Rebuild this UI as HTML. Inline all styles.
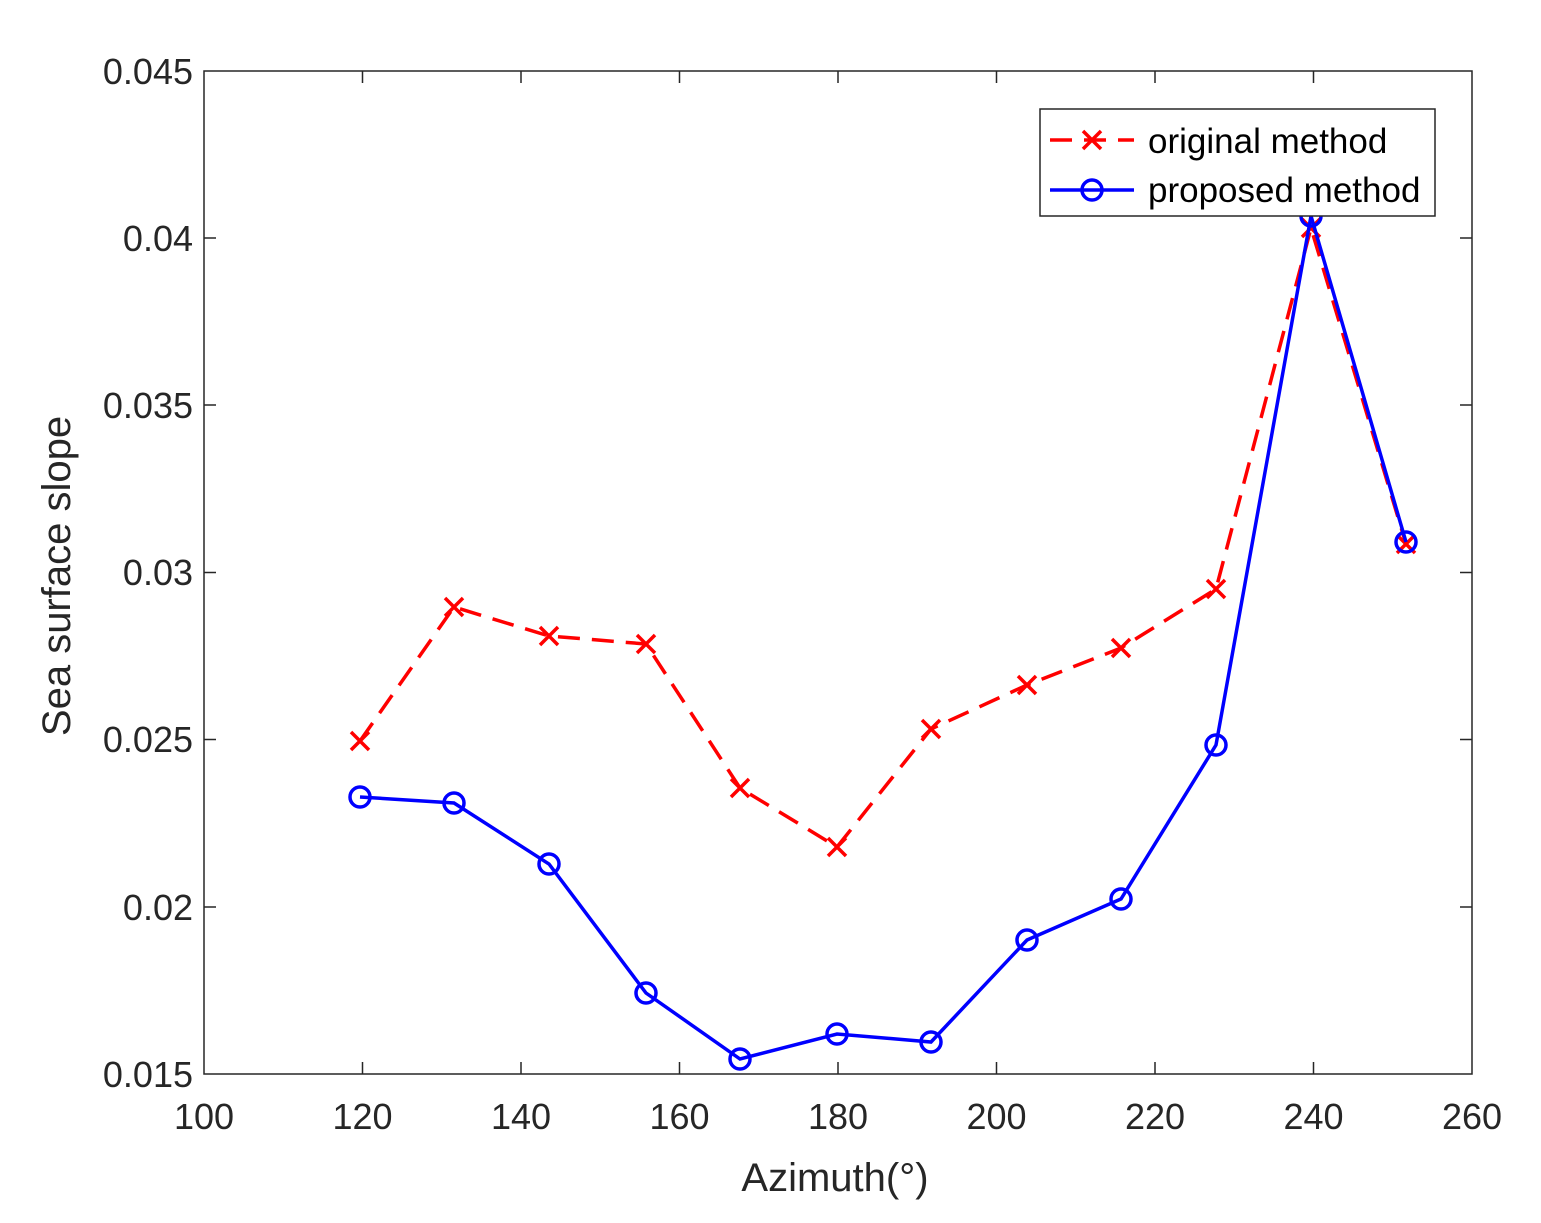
<!DOCTYPE html>
<html><head><style>body{margin:0;background:#fff}</style></head><body>
<svg width="1541" height="1218" xmlns="http://www.w3.org/2000/svg" font-family="Liberation Sans, sans-serif">
<rect width="1541" height="1218" fill="#fff"/>
<rect x="204" y="71" width="1268" height="1003" fill="#fff" stroke="#262626" stroke-width="1.5"/>
<g stroke="#262626" stroke-width="1.5">
<path d="M362.5,1074v-12M521,1074v-12M679.5,1074v-12M838,1074v-12M996.5,1074v-12M1155,1074v-12M1313.5,1074v-12M362.5,71v12M521,71v12M679.5,71v12M838,71v12M996.5,71v12M1155,71v12M1313.5,71v12"/>
<path d="M204,238h12M204,405h12M204,572.5h12M204,739.5h12M204,907h12M1472,238h-12M1472,405h-12M1472,572.5h-12M1472,739.5h-12M1472,907h-12"/>
</g>
<g font-size="36" fill="#262626" text-anchor="middle">
<text x="204" y="1129">100</text><text x="362.5" y="1129">120</text><text x="521" y="1129">140</text><text x="679.5" y="1129">160</text><text x="838" y="1129">180</text><text x="996.5" y="1129">200</text><text x="1155" y="1129">220</text><text x="1313.5" y="1129">240</text><text x="1472" y="1129">260</text>
</g>
<g font-size="36" fill="#262626" text-anchor="end">
<text x="193" y="84">0.045</text><text x="193" y="251">0.04</text><text x="193" y="418">0.035</text><text x="193" y="585">0.03</text><text x="193" y="752">0.025</text><text x="193" y="920">0.02</text><text x="193" y="1087">0.015</text>
</g>
<text x="835" y="1191" font-size="40" fill="#262626" text-anchor="middle">Azimuth(°)</text>
<text transform="translate(70,576) rotate(-90)" font-size="40" fill="#262626" text-anchor="middle">Sea surface slope</text>
<polyline fill="none" stroke="#f00" stroke-width="3.5" stroke-dasharray="22,12" points="360,741 454,607 549,636 646,644 740,788 837,847 931,729 1027,685 1121,648 1216,589 1311,228 1406,544"/>
<g stroke="#f00" stroke-width="3.5">
<path d="M351,732l18,18M369,732l-18,18M445,598l18,18M463,598l-18,18M540,627l18,18M558,627l-18,18M637,635l18,18M655,635l-18,18M731,779l18,18M749,779l-18,18M828,838l18,18M846,838l-18,18M922,720l18,18M940,720l-18,18M1018,676l18,18M1036,676l-18,18M1112,639l18,18M1130,639l-18,18M1207,580l18,18M1225,580l-18,18M1302,219l18,18M1320,219l-18,18M1397,535l18,18M1415,535l-18,18"/>
</g>
<polyline fill="none" stroke="#00f" stroke-width="3.5" points="360,797 454,803 549,864 646,993 740,1059 837,1034 931,1042 1027,940 1121,899 1216,745 1311,216 1406,542"/>
<g fill="none" stroke="#00f" stroke-width="3.5">
<circle cx="360" cy="797" r="10"/><circle cx="454" cy="803" r="10"/><circle cx="549" cy="864" r="10"/><circle cx="646" cy="993" r="10"/><circle cx="740" cy="1059" r="10"/><circle cx="837" cy="1034" r="10"/><circle cx="931" cy="1042" r="10"/><circle cx="1027" cy="940" r="10"/><circle cx="1121" cy="899" r="10"/><circle cx="1216" cy="745" r="10"/><circle cx="1311" cy="216" r="10"/><circle cx="1406" cy="542" r="10"/>
</g>
<rect x="1040" y="109" width="395" height="107" fill="#fff" stroke="#262626" stroke-width="1.5"/>
<path d="M1050,140h84" stroke="#f00" stroke-width="3.5" stroke-dasharray="22,12"/>
<path d="M1083,131l18,18M1101,131l-18,18" stroke="#f00" stroke-width="3.5"/>
<path d="M1050,190h84" stroke="#00f" stroke-width="3.5"/>
<circle cx="1092" cy="190" r="10" fill="none" stroke="#00f" stroke-width="3.5"/>
<text x="1148" y="153" font-size="35" fill="#000">original method</text>
<text x="1148" y="202" font-size="35" fill="#000">proposed method</text>
</svg>
</body></html>
